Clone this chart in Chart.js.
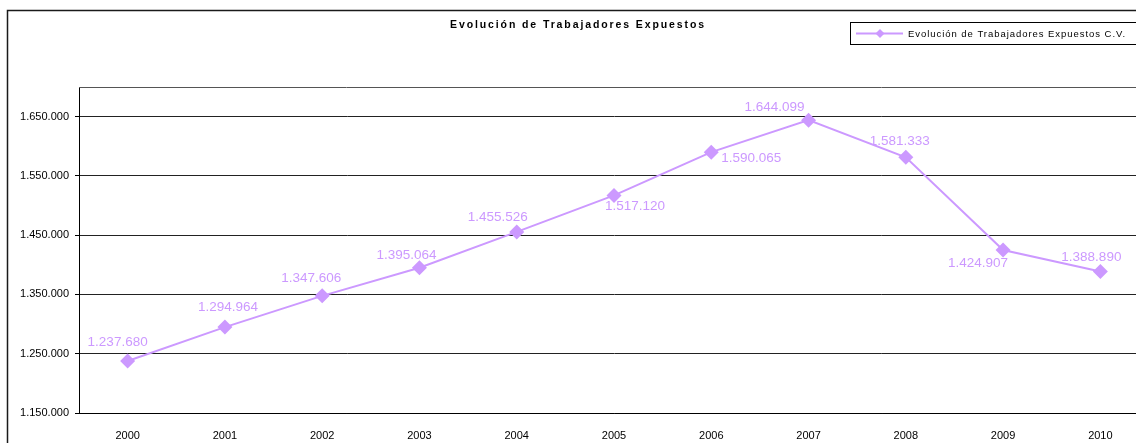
<!DOCTYPE html>
<html>
<head>
<meta charset="utf-8">
<script src="https://cdn.jsdelivr.net/npm/chart.js@4"></script>
<style>
    html, body { margin: 0; padding: 0; background: #fff; overflow: hidden; }
    #wrap { position: absolute; left: 0; top: 0; width: 1160px; height: 443px; }
</style>
</head>
<body>
<div id="wrap"><canvas id="lineChartWorkers" width="1160" height="443"></canvas></div>
<script>
// ==================== DATA ====================
const years = ['2000', '2001', '2002', '2003', '2004', '2005', '2006', '2007', '2008', '2009', '2010'];
const workers = [1237680, 1294964, 1347606, 1395064, 1455526, 1517120, 1590065, 1644099, 1581333, 1424907, 1388890];
const yTicks = [1150000, 1250000, 1350000, 1450000, 1550000, 1650000];
const yMin = 1150000;
const yMax = 1700000;
const chartTitle = 'Evolución de Trabajadores Expuestos';
const seriesName = 'Evolución de Trabajadores Expuestos C.V.';

// label offsets (px) from each point, labels were moved by hand in the original
const labelOffsets = [[-10, -19], [3, -20], [-11, -18], [-13, -12], [-19, -15], [21, 11], [40, 6], [-34, -13], [-6, -16], [-25, 13], [-9, -14]];

const lineColor = '#CC99FF';
const fontFamily = '"Liberation Sans", Arial, sans-serif';

// 1.234.567 style
function formatThousands(v) {
    return String(v).replace(/\B(?=(\d{3})+(?!\d))/g, '.');
}

// draw text stretched to a given width with letter spacing (Excel export look)
function spacedText(ctx, text, x, y, width) {
    ctx.letterSpacing = '0px';
    const w = ctx.measureText(text).width;
    const ls = (width - w) / text.length;
    ctx.letterSpacing = ls + 'px';
    ctx.textAlign = 'left';
    ctx.fillText(text, x, y);
    ctx.letterSpacing = '0px';
}

// ==================== FRAME, TITLE, LEGEND, LABELS ====================
const excelDecor = {
    id: 'excelDecor',
    beforeDraw(chart) {
        const ctx = chart.ctx;
        ctx.save();
        // outer chart border
        ctx.strokeStyle = '#1a1a1a';
        ctx.lineWidth = 1.5;
        ctx.strokeRect(7.5, 10.5, 1300, 600);

        // title
        ctx.fillStyle = '#000';
        ctx.font = 'bold 10.5px ' + fontFamily;
        ctx.textBaseline = 'middle';
        spacedText(ctx, chartTitle, 450, 25, 256);

        // legend box
        ctx.strokeStyle = '#000';
        ctx.lineWidth = 1;
        ctx.strokeRect(850.5, 22.5, 320, 22);
        ctx.strokeStyle = lineColor;
        ctx.lineWidth = 2;
        ctx.beginPath();
        ctx.moveTo(856, 33.5);
        ctx.lineTo(903, 33.5);
        ctx.stroke();
        ctx.fillStyle = lineColor;
        ctx.beginPath();
        ctx.moveTo(880, 29);
        ctx.lineTo(884.5, 33.5);
        ctx.lineTo(880, 38);
        ctx.lineTo(875.5, 33.5);
        ctx.closePath();
        ctx.fill();
        ctx.fillStyle = '#000';
        ctx.font = '9.5px ' + fontFamily;
        ctx.textBaseline = 'middle';
        spacedText(ctx, seriesName, 908, 34, 218);
        ctx.restore();
    },
    beforeDatasetsDraw(chart) {
        const { ctx, chartArea } = chart;
        ctx.save();
        ctx.strokeStyle = '#555';
        ctx.lineWidth = 1;
        ctx.beginPath();
        ctx.moveTo(chartArea.left, Math.round(chartArea.top) + 0.5);
        ctx.lineTo(chartArea.right, Math.round(chartArea.top) + 0.5);
        ctx.lineTo(chartArea.right, chartArea.bottom);
        ctx.stroke();
        ctx.restore();
    },
    afterDatasetsDraw(chart) {
        const ctx = chart.ctx;
        const meta = chart.getDatasetMeta(0);
        ctx.save();
        ctx.fillStyle = lineColor;
        ctx.font = '13.5px ' + fontFamily;
        ctx.textAlign = 'center';
        ctx.textBaseline = 'middle';
        meta.data.forEach((pt, i) => {
            const off = labelOffsets[i];
            ctx.fillText(formatThousands(workers[i]), pt.x + off[0], pt.y + off[1]);
        });
        ctx.restore();
    }
};

// ==================== LINE CHART ====================
const ctx = document.getElementById('lineChartWorkers').getContext('2d');
const lineChartWorkers = new Chart(ctx, {
    type: 'line',
    data: {
        labels: years,
        datasets: [{
            label: seriesName,
            data: workers,
            borderColor: lineColor,
            backgroundColor: lineColor,
            borderWidth: 2,
            tension: 0,
            pointStyle: 'rectRot',
            pointRadius: 7.5,
            pointBorderWidth: 0,
            pointBackgroundColor: lineColor
        }]
    },
    options: {
        responsive: false,
        animation: false,
        devicePixelRatio: 1,
        layout: { padding: { top: 87, right: 11, left: 0, bottom: 0 } },
        plugins: {
            legend: { display: false },
            title: { display: false },
            tooltip: { enabled: false }
        },
        scales: {
            x: {
                offset: true,
                grid: { display: false },
                border: { display: true, color: '#000', width: 1 },
                ticks: { color: '#000', font: { family: fontFamily, size: 11 }, padding: 8, maxRotation: 0 },
                afterFit(scale) { scale.height = 30; }
            },
            y: {
                min: yMin,
                max: yMax,
                grid: { color: '#222', lineWidth: 1, tickLength: 4, tickColor: '#000' },
                border: { display: true, color: '#000', width: 1 },
                ticks: {
                    color: '#000',
                    font: { family: fontFamily, size: 11 },
                    padding: 6,
                    callback: v => formatThousands(v)
                },
                afterBuildTicks(scale) { scale.ticks = yTicks.map(v => ({ value: v })); },
                afterFit(scale) { scale.width = 79; }
            }
        }
    },
    plugins: [excelDecor]
});
</script>
</body>
</html>
